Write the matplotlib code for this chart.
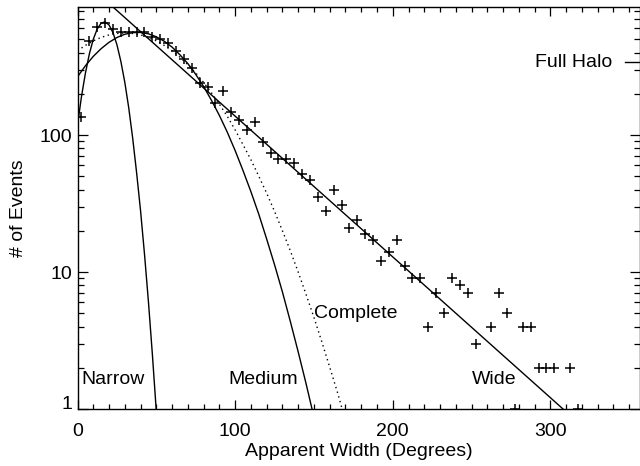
import matplotlib
matplotlib.use("Agg")
import matplotlib.pyplot as plt
from matplotlib.ticker import MultipleLocator, LogLocator, NullFormatter, FixedLocator, FixedFormatter

plt.rcParams['font.family'] = ['Liberation Sans', 'DejaVu Sans']
plt.rcParams['font.size'] = 14

# histogram of apparent widths (5 degree bins)
bin_center = [2.5, 7.5, 12.5, 17.5, 22.5, 27.5, 32.5, 37.5, 42.5, 47.5,
              52.5, 57.5, 62.5, 67.5, 72.5, 77.5, 82.5, 87.5, 92.5, 97.5,
              102.5, 107.5, 112.5, 117.5, 122.5, 127.5, 132.5, 137.5, 142.5, 147.5,
              152.5, 157.5, 162.5, 167.5, 172.5, 177.5, 182.5, 187.5, 192.5, 197.5,
              202.5, 207.5, 212.5, 217.5, 222.5, 227.5, 232.5, 237.5, 242.5, 247.5,
              252.5, 262.5, 267.5, 272.5, 277.5, 282.5, 287.5, 292.5, 297.5, 302.5,
              312.5, 317.5]
n_events = [135, 488, 612, 661, 591, 567, 561, 561, 561, 522,
            499, 467, 413, 357, 310, 240, 223, 172, 209, 147,
            129, 109, 125, 89, 74, 67, 67, 63, 52, 47,
            35, 28, 40, 31, 21, 24, 19, 17, 12, 14,
            17, 11, 9, 9, 4, 7, 5, 9, 8, 7,
            3, 4, 7, 5, 1, 4, 4, 2, 2, 2,
            2, 1]

# fitted curves
narrow_x = [0, 2.5, 5, 7.5, 10, 12.5, 15, 17.5, 20, 22.5, 25, 27.5, 30,
            32.5, 35, 37.5, 40, 42.5, 45, 47.5, 50]
narrow_y = [118, 190, 282, 390, 500, 594, 655, 670, 636, 559, 457, 345, 243,
            158, 95, 53, 28, 13.5, 6.06, 2.5, 0.96]

medium_x = [0, 5, 10, 15, 20, 25, 30, 35, 40, 45, 50, 55, 60, 65, 70, 75,
            80, 85, 90, 95, 100, 105, 110, 115, 120, 125, 130, 135, 140, 145, 150]
medium_y = [266, 320, 375, 427, 475, 515, 544, 559, 561, 548, 521, 484, 438, 385, 332, 277,
            226, 179, 139, 105, 77, 55, 38.6, 26.4, 17.4, 11.3, 7.15, 4.36, 2.61, 1.53, 0.87]

complete_x = [0, 5, 10, 15, 20, 25, 30, 35, 40, 45, 50, 55, 60, 65, 70, 75, 80, 85,
              90, 95, 100, 105, 110, 115, 120, 125, 130, 135, 140, 145, 150, 155,
              160, 165, 170]
complete_y = [412, 451, 487, 516, 538, 551, 556, 551, 538, 516, 487, 451, 412, 370, 327, 284, 242, 203,
              168, 137, 109, 85, 66, 50, 37.6, 27.7, 20.0, 14.3, 9.99, 6.85, 4.66, 3.09,
              2.02, 1.31, 0.82]

wide_x = [22.5, 308]
wide_y = [860, 1]

halo_x = [347, 360]
halo_y = [341, 341]

fig = plt.figure(figsize=(6.4, 4.66), dpi=100)
ax = fig.add_axes([77.5 / 640, 1 - 409 / 466, (639.5 - 77.5) / 640, (409 - 7) / 466])

ax.plot(bin_center, n_events, '+', color='black', ms=6.5, mew=1.1)
ax.plot(narrow_x, narrow_y, '-', color='black', lw=1.0)
ax.plot(medium_x, medium_y, '-', color='black', lw=1.0)
ax.plot(complete_x, complete_y, color='black', lw=1.0, linestyle=(0, (1, 2.5)))
ax.plot(wide_x, wide_y, '-', color='black', lw=1.0)
ax.plot(halo_x, halo_y, '-', color='black', lw=1.0, clip_on=False)

ax.set_yscale('log')
ax.set_xlim(0, 356.5)
ax.set_ylim(1, 860)

ax.text(2.3, 1.63, 'Narrow', va='center', ha='left')
ax.text(95.5, 1.63, 'Medium', va='center', ha='left')
ax.text(150, 5.02, 'Complete', va='center', ha='left')
ax.text(250, 1.63, 'Wide', va='center', ha='left')
ax.text(290, 341, 'Full Halo', va='center', ha='left')

ax.xaxis.set_major_locator(MultipleLocator(100))
ax.xaxis.set_minor_locator(MultipleLocator(10))
ax.yaxis.set_major_locator(FixedLocator([1, 10, 100]))
ax.yaxis.set_major_formatter(FixedFormatter(['1', '10', '100']))
ax.yaxis.set_minor_locator(LogLocator(base=10, subs=range(2, 10)))
ax.yaxis.set_minor_formatter(NullFormatter())

ax.tick_params(axis='both', which='both', direction='in', top=True, right=True, width=0.9)
ax.tick_params(axis='x', which='major', length=6.5, pad=10)
ax.tick_params(axis='x', which='minor', length=3.5)
ax.tick_params(axis='y', which='major', length=7.5, pad=4)
ax.tick_params(axis='y', which='minor', length=4)
for s in ax.spines.values():
    s.set_linewidth(1.0)

# the "1" sits on the bottom axis line
ax.yaxis.get_major_ticks()[0].label1.set_verticalalignment('baseline')

ax.set_xlabel('Apparent Width (Degrees)', labelpad=2.5)
ax.set_ylabel('# of Events', labelpad=9)

fig.savefig('out.png', dpi=100)
